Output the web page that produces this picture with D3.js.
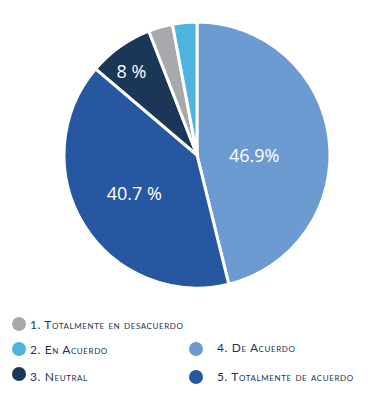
<!DOCTYPE html>
<html>
<head>
<meta charset="utf-8">
<script src="https://cdn.jsdelivr.net/npm/d3@7"></script>
<style>
  body { margin: 0; background: #fff; }
</style>
</head>
<body>
<div id="canvas"></div>
<script>
"use strict"

/* Data: clockwise from 12 o'clock */
let categories = ["4. De Acuerdo", "5. Totalmente de acuerdo", "3. Neutral", "1. Totalmente en desacuerdo", "2. En Acuerdo"];
let values = [46.9, 40.7, 8, 3, 3];
let sliceLabels = ["46.9%", "40.7 %", "8 %", "", ""];
let colors = ["#6b9bd0", "#2757a0", "#1b3656", "#a7a9ac", "#4fb3e0"];

/* Legend order as shown below the pie */
let legendItems = ["1. Totalmente en desacuerdo", "2. En Acuerdo", "3. Neutral", "4. De Acuerdo", "5. Totalmente de acuerdo"];

let svgWidth = 370;
let svgHeight = 400;
let cx = 197, cy = 155, radius = 133;

let svg = d3.select("#canvas")
    .append("svg")
    .attr("width", svgWidth)
    .attr("height", svgHeight);

let colorScale = d3.scaleOrdinal()
    .domain(categories)
    .range(colors);

let pie = d3.pie().sort(null).value(function(d, i) { return values[i]; });
let arcs = pie(categories);

let arc = d3.arc().innerRadius(0).outerRadius(radius);

let g = svg.append("g")
    .attr("transform", "translate(" + cx + "," + cy + ")");

g.selectAll("path")
    .data(arcs)
    .join("path")
    .attr("d", arc)
    .attr("fill", function(d) { return colorScale(d.data); })
    .attr("stroke", "#fff")
    .attr("stroke-width", 3)
    .attr("stroke-linejoin", "round");

/* Percent labels inside slices: polar position (degrees clockwise from north, fraction of radius) */
let labelAngle = [90, 239, 322, 0, 0];
let labelRadius = [0.43, 0.55, 0.8, 0, 0];
g.selectAll("text.pct")
    .data(arcs)
    .join("text")
    .attr("class", "pct")
    .attr("transform", function(d, i) {
        let a = labelAngle[i] * Math.PI / 180;
        let r = radius * labelRadius[i];
        return "translate(" + (Math.sin(a) * r) + "," + (-Math.cos(a) * r) + ")";
    })
    .attr("text-anchor", "middle")
    .attr("dominant-baseline", "central")
    .style("font-family", "'Open Sans', sans-serif")
    .style("font-size", "18px")
    .attr("fill", "#fff")
    .text(function(d, i) { return sliceLabels[i]; });

/* Legend */
let legendPos = [
    { x: 19, y: 324 },
    { x: 19, y: 349 },
    { x: 19, y: 374 },
    { x: 196, y: 349 },
    { x: 196, y: 377 }
];
let textOffsetX = [11, 11, 11, 21, 21];
let textOffsetY = [0, 0, 2, -2, -1];

for (let i = 0; i < legendItems.length; i++) {
    let p = legendPos[i];
    svg.append("circle")
        .attr("cx", p.x)
        .attr("cy", p.y)
        .attr("r", 7)
        .attr("fill", colorScale(legendItems[i]));

    svg.append("text")
        .attr("x", p.x + textOffsetX[i])
        .attr("y", p.y + textOffsetY[i])
        .attr("dominant-baseline", "central")
        .style("font-family", "'Lato', sans-serif")
        .style("font-size", "12px")
        .style("font-variant", "small-caps")
        .style("letter-spacing", "0.6px")
        .attr("fill", "#1b3656")
        .text(legendItems[i]);
}
</script>
</body>
</html>
